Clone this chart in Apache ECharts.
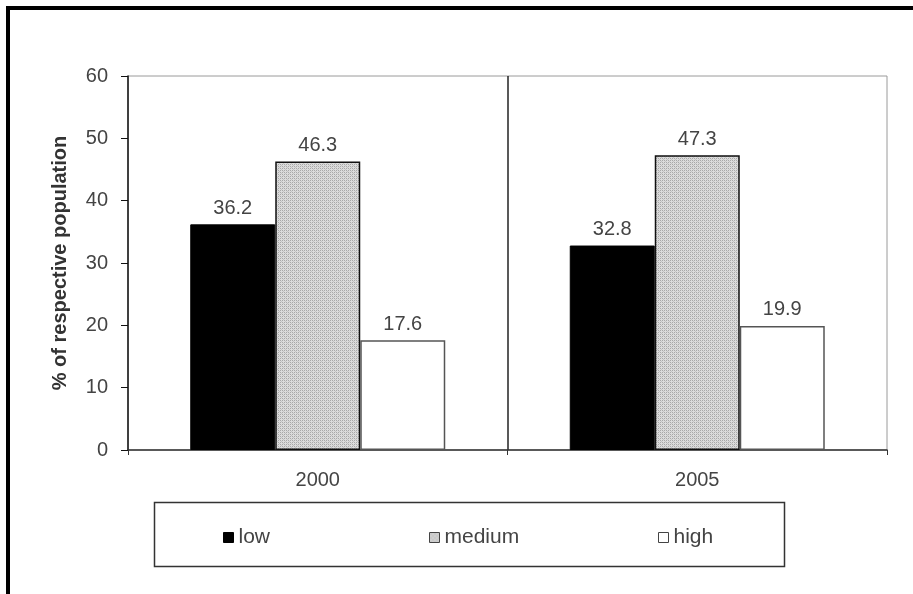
<!DOCTYPE html>
<html>
<head>
<meta charset="utf-8">
<script src="https://cdn.jsdelivr.net/npm/echarts@6/dist/echarts.min.js"></script>
<style>
  html, body { margin: 0; padding: 0; background: #fff; }
  #chart { width: 913px; height: 594px; }
</style>
</head>
<body>
<div id="chart"></div>
<script>
// Share of the population by level, per survey year
const years = ['2000', '2005'];
const seriesNames = ['low', 'medium', 'high'];
const lowValues = [36.2, 32.8];
const mediumValues = [46.3, 47.3];
const highValues = [17.6, 19.9];
const yTicks = [0, 10, 20, 30, 40, 50, 60];

// Fine stippled grey fill used for the "medium" bars
function stipple() {
  const c = document.createElement('canvas');
  c.width = 4; c.height = 4;
  const g = c.getContext('2d');
  g.fillStyle = '#dcdcdc';
  g.fillRect(0, 0, 4, 4);
  g.fillStyle = '#a8a8a8';
  g.fillRect(0, 0, 1, 1); g.fillRect(2, 2, 1, 1);
  g.fillRect(2, 0, 1, 1); g.fillRect(0, 2, 1, 1);
  g.fillStyle = '#c4c4c4';
  g.fillRect(1, 1, 1, 1); g.fillRect(3, 3, 1, 1);
  return c;
}
const mediumFill = { image: stipple(), repeat: 'repeat' };

const font = '"Liberation Sans", Arial, sans-serif';
const textColor = '#444';

const styles = {
  low: { color: '#000', borderColor: '#000', borderWidth: 1 },
  medium: { color: mediumFill, borderColor: '#111', borderWidth: 1.5 },
  high: { color: '#fff', borderColor: '#555', borderWidth: 1.5 }
};
const valuesByName = { low: lowValues, medium: mediumValues, high: highValues };

const chart = echarts.init(document.getElementById('chart'), null, { renderer: 'canvas' });

const legendLeft = { low: 218, medium: 424, high: 653 };

chart.setOption({
  animation: false,
  backgroundColor: '#fff',
  grid: {
    left: 128, right: 26, top: 76, bottom: 144,
    show: true, borderColor: '#9a9a9a', borderWidth: 1, backgroundColor: 'transparent'
  },
  graphic: [
    {
      type: 'rect', z: 100, silent: true,
      shape: { x: 8, y: 8, width: 1000, height: 1000 },
      style: { fill: 'none', stroke: '#000', lineWidth: 4 }
    },
    {
      type: 'rect', z: 0, silent: true,
      shape: { x: 154.5, y: 502.5, width: 630, height: 64 },
      style: { fill: '#fff', stroke: '#333', lineWidth: 1.5 }
    }
  ],
  legend: seriesNames.map(n => ({
    data: [n],
    left: legendLeft[n],
    top: 522,
    selectedMode: false,
    icon: 'rect',
    itemWidth: 10,
    itemHeight: 10,
    itemStyle: { borderColor: n === 'low' ? '#000' : '#444', borderWidth: 1 },
    textStyle: { fontFamily: font, fontSize: 21, color: textColor }
  })),
  xAxis: {
    type: 'category',
    data: years,
    axisLine: { lineStyle: { color: '#333', width: 1.5 } },
    axisTick: { show: true, length: 5, lineStyle: { color: '#333' } },
    axisLabel: { fontFamily: font, fontSize: 20, color: textColor, margin: 20 },
    splitLine: { show: true, showMinLine: false, showMaxLine: false, lineStyle: { color: '#222', width: 1.5 } }
  },
  yAxis: {
    type: 'value',
    min: yTicks[0],
    max: yTicks[yTicks.length - 1],
    interval: 10,
    name: '% of respective population',
    nameLocation: 'middle',
    nameGap: 58,
    nameTextStyle: { fontFamily: font, fontSize: 20, fontWeight: 'bold', color: '#333' },
    axisLine: { show: true, lineStyle: { color: '#111', width: 1.5 } },
    axisTick: { show: true, length: 7, lineStyle: { color: '#111' } },
    axisLabel: { fontFamily: font, fontSize: 20, color: textColor, margin: 20 },
    splitLine: { show: false }
  },
  series: seriesNames.map(n => ({
    name: n,
    type: 'bar',
    data: valuesByName[n],
    barWidth: 85,
    barGap: '0%',
    itemStyle: styles[n],
    label: {
      show: true,
      position: 'top',
      distance: 6,
      fontFamily: font,
      fontSize: 20,
      color: textColor
    }
  }))
});
</script>
</body>
</html>
